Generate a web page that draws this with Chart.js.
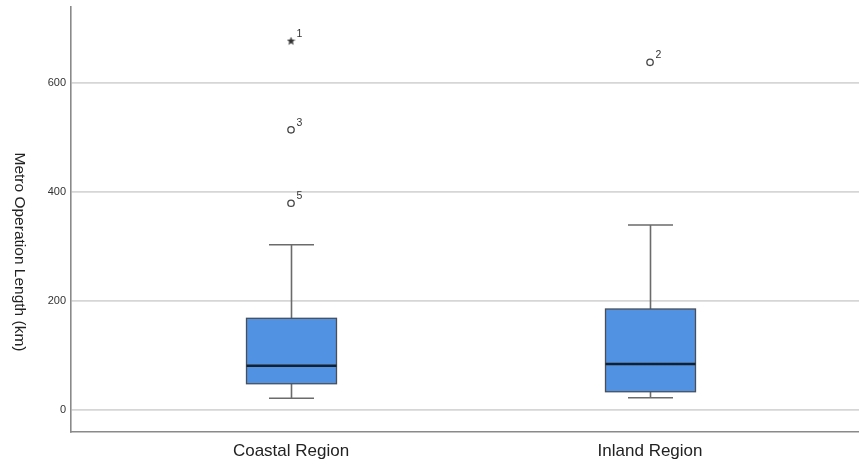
<!DOCTYPE html>
<html>
<head>
<meta charset="utf-8">
<script src="https://cdn.jsdelivr.net/npm/chart.js@4/dist/chart.umd.min.js"></script>
<style>
html,body{margin:0;padding:0;background:#fff;}
#wrap{width:859px;height:470px;}
canvas{display:block;}
</style>
</head>
<body>
<div id="wrap"><canvas id="c" width="859" height="470"></canvas></div>
<script>
// ---- data ----
const categories = ['Coastal Region', 'Inland Region'];
const whiskerLow  = [20.6, 21.7];
const q1          = [47.4, 32.7];
const median      = [80.5, 83.6];
const q3          = [167.6, 184.7];
const whiskerHigh = [302.8, 339.0];
const outlierCategory = [0, 0, 0, 1];
const outlierValues   = [677, 514, 379, 638];
const outlierLabels   = ['1', '3', '5', '2'];
const outlierExtreme  = [true, false, false, false];
const yTicks = [0, 200, 400, 600];

const FONT = "'Liberation Sans', Arial, sans-serif";

// filled star marker
function makeStar(size) {
  const c = document.createElement('canvas');
  c.width = size; c.height = size;
  const g = c.getContext('2d');
  const cx = size / 2, cy = size / 2, R = size / 2, r = R * 0.42;
  g.beginPath();
  for (let i = 0; i < 10; i++) {
    const ang = -Math.PI / 2 + i * Math.PI / 5;
    const rad = i % 2 === 0 ? R : r;
    g.lineTo(cx + rad * Math.cos(ang), cy + rad * Math.sin(ang));
  }
  g.closePath();
  g.fillStyle = '#333';
  g.fill();
  return c;
}
const starImg = makeStar(9);

const normalPts = [], extremePts = [];
outlierValues.forEach((v, i) => {
  const p = { x: outlierCategory[i] + 1, y: v, label: outlierLabels[i] };
  (outlierExtreme[i] ? extremePts : normalPts).push(p);
});

const boxPlugin = {
  id: 'boxes',
  beforeDatasetsDraw(chart) {
    const { ctx, scales: { x, y } } = chart;
    const boxW = 90, capW = 45;
    ctx.save();
    categories.forEach((cat, i) => {
      const cx = Math.round(x.getPixelForValue(i + 1)) + 0.5;
      const yLo = y.getPixelForValue(whiskerLow[i]);
      const yQ1 = y.getPixelForValue(q1[i]);
      const yMed = y.getPixelForValue(median[i]);
      const yQ3 = y.getPixelForValue(q3[i]);
      const yHi = y.getPixelForValue(whiskerHigh[i]);
      // whiskers
      ctx.strokeStyle = '#6b6b6b';
      ctx.lineWidth = 1.6;
      ctx.beginPath();
      ctx.moveTo(cx, yHi); ctx.lineTo(cx, yQ3);
      ctx.moveTo(cx, yQ1); ctx.lineTo(cx, yLo);
      ctx.moveTo(cx - capW / 2, yHi); ctx.lineTo(cx + capW / 2, yHi);
      ctx.moveTo(cx - capW / 2, yLo); ctx.lineTo(cx + capW / 2, yLo);
      ctx.stroke();
      // box
      ctx.fillStyle = '#5292e2';
      ctx.fillRect(cx - boxW / 2, yQ3, boxW, yQ1 - yQ3);
      ctx.strokeStyle = '#4a4f57';
      ctx.lineWidth = 1.3;
      ctx.strokeRect(cx - boxW / 2, yQ3, boxW, yQ1 - yQ3);
      // median
      ctx.strokeStyle = '#14202e';
      ctx.lineWidth = 2.6;
      ctx.beginPath();
      ctx.moveTo(cx - boxW / 2, yMed); ctx.lineTo(cx + boxW / 2, yMed);
      ctx.stroke();
    });
    ctx.restore();
  },
  afterDatasetsDraw(chart) {
    const { ctx, scales: { x, y } } = chart;
    ctx.save();
    ctx.fillStyle = '#333';
    ctx.font = '10.5px ' + FONT;
    ctx.textAlign = 'left';
    ctx.textBaseline = 'alphabetic';
    outlierValues.forEach((v, i) => {
      const px = x.getPixelForValue(outlierCategory[i] + 1);
      const py = y.getPixelForValue(v);
      ctx.fillText(outlierLabels[i], px + 5.5, py - 4);
    });
    // y-axis title
    ctx.fillStyle = '#222';
    ctx.font = '15.5px ' + FONT;
    ctx.translate(19, 252);
    ctx.rotate(Math.PI / 2);
    ctx.textAlign = 'center';
    ctx.textBaseline = 'middle';
    ctx.fillText('Metro Operation Length (km)', 0, 0);
    ctx.restore();
  }
};

new Chart(document.getElementById('c'), {
  type: 'scatter',
  data: {
    datasets: [
      {
        data: normalPts,
        pointStyle: 'circle',
        pointRadius: 3.2,
        pointBorderWidth: 1.3,
        pointBorderColor: '#444',
        pointBackgroundColor: '#fff'
      },
      {
        data: extremePts,
        pointStyle: starImg,
        pointRadius: 4.5
      }
    ]
  },
  options: {
    responsive: false,
    animation: false,
    events: [],
    layout: { autoPadding: false, padding: { top: 7, right: 0, left: 0, bottom: 0 } },
    plugins: { legend: { display: false }, tooltip: { enabled: false } },
    scales: {
      x: {
        type: 'linear',
        min: 0.3872,
        max: 2.582,
        afterBuildTicks: s => { s.ticks = [{ value: 1 }, { value: 2 }]; },
        afterFit: s => { s.height = 38; s.paddingLeft = 0; s.paddingRight = 0; },
        grid: { display: false, drawTicks: false },
        border: { display: true, color: '#8a8a8a', width: 1.6 },
        ticks: {
          padding: 9,
          color: '#222',
          font: { family: FONT, size: 17 },
          callback: v => categories[v - 1]
        }
      },
      y: {
        min: -41.3,
        max: 739.6,
        afterBuildTicks: s => { s.ticks = yTicks.map(v => ({ value: v })); },
        afterFit: s => { s.width = 71; s.paddingTop = 0; s.paddingBottom = 0; },
        grid: { color: '#d6d6d6', lineWidth: 1.8, drawTicks: false },
        border: { display: true, color: '#8a8a8a', width: 1.6 },
        ticks: {
          padding: 5,
          color: '#333',
          font: { family: FONT, size: 11 }
        }
      }
    }
  },
  plugins: [boxPlugin]
});
</script>
</body>
</html>
